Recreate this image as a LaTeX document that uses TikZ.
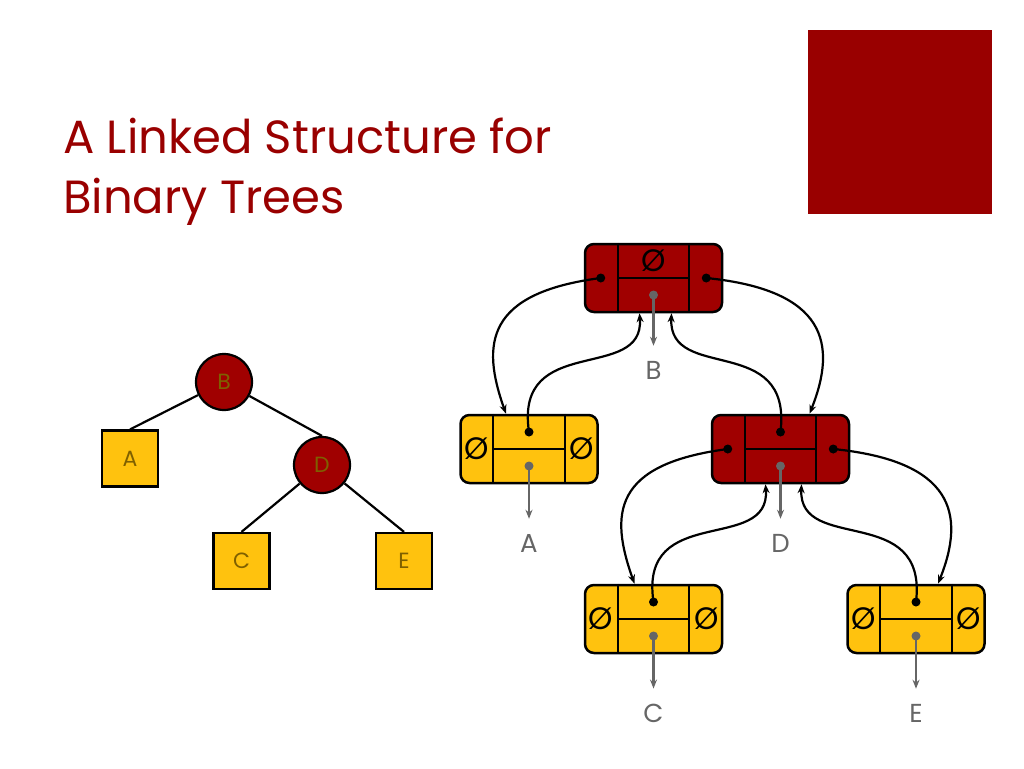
\documentclass[tikz,border=0pt]{standalone}
\usepackage{fontspec}
\setmainfont{Poppins}
\usetikzlibrary{arrows.meta,positioning}
\definecolor{slidered}{HTML}{990000}
\definecolor{nodered}{HTML}{A00000}
\definecolor{nodegold}{HTML}{FFC20E}
\definecolor{labelgray}{HTML}{666666}
\definecolor{treetext}{HTML}{7F6000}
\tikzset{
    %Define standard arrow tip
    >={Stealth[length=9pt,width=7pt]},
    %Define style for list records
    record/.style={
           rectangle,
           rounded corners=9pt,
           draw=black, line width=2.5pt,
           minimum width=137pt,
           minimum height=68pt,
           inner sep=0pt},
    redrec/.style={record, fill=nodered},
    goldrec/.style={record, fill=nodegold},
    cellline/.style={line width=2.2pt, draw=black},
    nullsym/.style={
           font=\fontsize{31}{31}\selectfont,
           inner sep=0pt},
    reclabel/.style={
           font=\fontsize{26}{26}\selectfont,
           text=labelgray,
           inner sep=0pt},
    %Define style for the small tree
    treeint/.style={
           circle,
           draw=black, line width=2.2pt,
           fill=nodered,
           minimum size=56pt,
           font=\fontsize{22}{22}\selectfont,
           text=treetext},
    treeleaf/.style={
           rectangle,
           draw=black, line width=2.2pt,
           fill=nodegold,
           minimum size=56pt,
           font=\fontsize{22}{22}\selectfont,
           text=treetext},
    % Define arrow styles
    link/.style={
           ->,
           line width=2.2pt},
    ptr/.style={
           ->,
           line width=2.2pt,
           draw=labelgray,
           fill=labelgray,
           shorten >=15pt}
}
% cells, dots and coordinates of one record
\newcommand{\cells}[1]{%
  \draw[cellline] ([xshift=34pt]#1.north west) -- ([xshift=34pt]#1.south west);
  \draw[cellline] ([xshift=-34pt]#1.north east) -- ([xshift=-34pt]#1.south east);
  \draw[cellline] ([xshift=34pt]#1.west) -- ([xshift=-34pt]#1.east);
  \coordinate (#1-l) at ([xshift=17pt]#1.west);
  \coordinate (#1-r) at ([xshift=-17pt]#1.east);
  \coordinate (#1-t) at ([yshift=17pt]#1.center);
  \coordinate (#1-b) at ([yshift=-17pt]#1.center);
  \fill[labelgray] (#1-b) circle (4.5pt);
}

\begin{document}
\begin{tikzpicture}[x=1pt,y=-1pt]
\useasboundingbox (0,0) rectangle (1024,768);

 %title and corner block
\fill[slidered] (808,30) rectangle (992,214);
\node[anchor=base west, inner sep=0pt, text=slidered, font=\fontsize{46.5}{46.5}\selectfont]
  (title1) at (63,153) {A Linked Structure for};
\node[anchor=base west, inner sep=0pt, text=slidered, font=\fontsize{46.5}{46.5}\selectfont]
  (title2) at (63,213) {Binary Trees};

 %small tree
\node[treeint](tB) at (224,382) {B};
\node[treeleaf](tA) at (130,458.5) {A};
\node[treeint](tD) at (322,465) {D};
\node[treeleaf](tC) at (241.5,561) {C};
\node[treeleaf](tE) at (404,561) {E};

\draw[line width=2.2pt] (tB) -- (tA.north);
\draw[line width=2.2pt] (tB) -- (tD.north);
\draw[line width=2.2pt] (tD) -- (tC.north);
\draw[line width=2.2pt] (tD) -- (tE.north);

 %linked records
\node[redrec](B) at (653.5,278) {};
\node[goldrec](A) at (529,449) {};
\node[redrec](D) at (780.5,449) {};
\node[goldrec](C) at (653.5,619) {};
\node[goldrec](E) at (916,619) {};
\cells{B}
\cells{A}
\cells{D}
\cells{C}
\cells{E}

\node[nullsym](Bn) at (B-t) {Ø};
\node[nullsym](Anl) at (A-l) {Ø};
\node[nullsym](Anr) at (A-r) {Ø};
\node[nullsym](Cnl) at (C-l) {Ø};
\node[nullsym](Cnr) at (C-r) {Ø};
\node[nullsym](Enl) at (E-l) {Ø};
\node[nullsym](Enr) at (E-r) {Ø};

\foreach \c in {B-l,B-r,A-t,D-l,D-r,D-t,C-t,E-t}
  \fill (\c) circle (4.5pt);

 %element labels
\node[reclabel](labB) at ([yshift=-92pt]B.center) {B};
\node[reclabel](labA) at ([yshift=-94pt]A.center) {A};
\node[reclabel](labD) at ([yshift=-94pt]D.center) {D};
\node[reclabel](labC) at ([yshift=-94pt]C.center) {C};
\node[reclabel](labE) at ([yshift=-94pt]E.center) {E};
\foreach \n in {B,A,D,C,E}
  \draw[ptr] (\n-b) -- (lab\n);

 %child and parent links
\draw[link] (B-l) .. controls +(-115,15) and +(-25,-70) .. ([xshift=-23pt]A.north);
\draw[link] (A-t) .. controls +(-15,-100) and +(5,70) .. ([xshift=-14pt]B.south);
\draw[link] (B-r) .. controls +(120,12) and +(28,-70) .. ([xshift=29pt]D.north);
\draw[link] (D-t) .. controls +(12,-100) and +(-3,70) .. ([xshift=18pt]B.south);
\draw[link] (D-l) .. controls +(-115,15) and +(-25,-70) .. ([xshift=-19pt]C.north);
\draw[link] (C-t) .. controls +(-15,-100) and +(5,70) .. ([xshift=-15pt]D.south);
\draw[link] (D-r) .. controls +(120,12) and +(28,-70) .. ([xshift=22pt]E.north);
\draw[link] (E-t) .. controls +(12,-100) and +(-3,70) .. ([xshift=21pt]D.south);

\end{tikzpicture}
\end{document}
